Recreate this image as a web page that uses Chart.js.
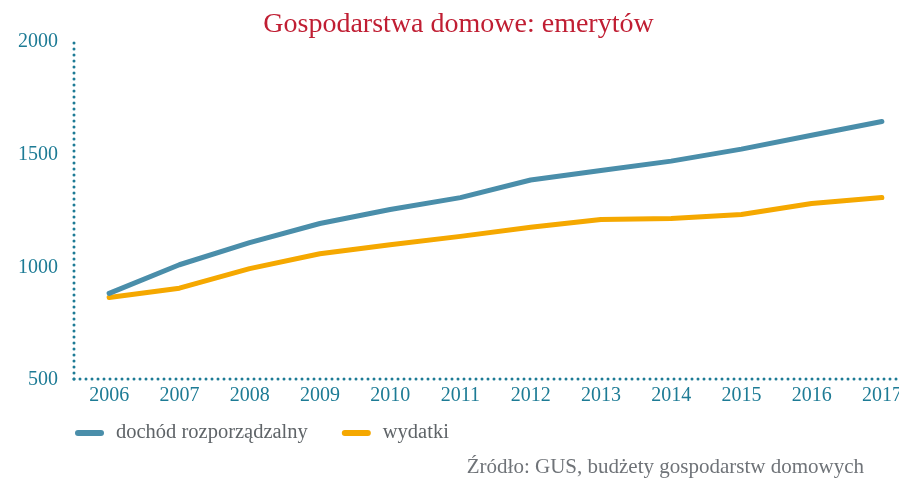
<!DOCTYPE html>
<html><head><meta charset="utf-8">
<script src="https://cdn.jsdelivr.net/npm/chart.js@4"></script>
<style>
html,body{margin:0;padding:0;overflow:hidden;background:#fff;width:899px;height:478px}
#wrap{position:relative;width:960px;height:478px}
</style></head>
<body><div id="wrap"><canvas id="c" width="960" height="478" style="width:960px;height:478px"></canvas></div>
<script>
const years = ['2006','2007','2008','2009','2010','2011','2012','2013','2014','2015','2016','2017'];
const dochod = [880, 1007, 1105, 1190, 1252, 1305, 1383, 1425, 1467, 1520, 1582, 1643];
const wydatki = [862, 903, 990, 1056, 1096, 1133, 1173, 1208, 1212, 1230, 1279, 1305];
const yTicks = [500, 1000, 1500, 2000];
const seriesNames = ['dochód rozporządzalny', 'wydatki'];
const titleText = 'Gospodarstwa domowe: emerytów';
const sourceText = 'Źródło: GUS, budżety gospodarstw domowych';

const FONT = '"Liberation Serif", "DejaVu Serif", serif';
const TEAL = '#1d7b95';

const dottedAxes = {
  id: 'dottedAxes',
  beforeDatasetsDraw(chart) {
    const ctx = chart.ctx, a = chart.chartArea;
    ctx.save();
    ctx.fillStyle = TEAL;
    const step = 6, r = 1.5;
    for (let y = a.bottom; y >= a.top - 2; y -= step) {
      ctx.beginPath(); ctx.arc(a.left, y, r, 0, Math.PI * 2); ctx.fill();
    }
    for (let x = a.left; x <= chart.width; x += step) {
      ctx.beginPath(); ctx.arc(x, a.bottom, r, 0, Math.PI * 2); ctx.fill();
    }
    ctx.restore();
  }
};

const extras = {
  id: 'extras',
  afterDraw(chart) {
    const ctx = chart.ctx, a = chart.chartArea;
    ctx.save();
    ctx.font = '20.5px ' + FONT;
    ctx.textBaseline = 'middle';
    ctx.textAlign = 'left';
    let x = a.left + 1;
    const y = a.bottom + 54;
    chart.data.datasets.forEach(ds => {
      ctx.strokeStyle = ds.borderColor;
      ctx.lineWidth = 6;
      ctx.lineCap = 'round';
      ctx.beginPath(); ctx.moveTo(x + 3, y); ctx.lineTo(x + 26, y); ctx.stroke();
      ctx.fillStyle = '#5f6468';
      ctx.fillText(ds.label, x + 41, y);
      x += 41 + ctx.measureText(ds.label).width + 34;
    });
    ctx.font = '21px ' + FONT;
    ctx.textAlign = 'right';
    ctx.fillStyle = '#6f7378';
    ctx.fillText(sourceText, 864, 467);
    ctx.restore();
  }
};

new Chart(document.getElementById('c'), {
  type: 'line',
  data: {
    labels: years,
    datasets: [
      { label: seriesNames[0], data: dochod, borderColor: '#4a8eaa', backgroundColor: '#4a8eaa',
        borderWidth: 5, pointRadius: 0, tension: 0, borderCapStyle: 'round', borderJoinStyle: 'round' },
      { label: seriesNames[1], data: wydatki, borderColor: '#f5a800', backgroundColor: '#f5a800',
        borderWidth: 5, pointRadius: 0, tension: 0, borderCapStyle: 'round', borderJoinStyle: 'round' }
    ]
  },
  options: {
    responsive: false,
    animation: false,
    devicePixelRatio: 1,
    layout: { padding: { left: 0, right: 43, top: 0, bottom: 65 } },
    plugins: {
      legend: { display: false },
      tooltip: { enabled: false },
      title: {
        display: true, text: titleText, color: '#c01e33',
        font: { family: FONT, size: 28, weight: 'normal', lineHeight: 1.0 },
        padding: { top: 11, bottom: 2 }
      }
    },
    scales: {
      x: {
        type: 'category', offset: true,
        grid: { display: false, drawTicks: false },
        border: { display: false },
        ticks: { color: TEAL, font: { family: FONT, size: 20 }, padding: 5, maxRotation: 0, autoSkip: false }
      },
      y: {
        min: 500, max: 2000,
        afterBuildTicks: s => { s.ticks = yTicks.map(v => ({ value: v })); },
        afterFit: s => { s.width = 74; },
        grid: { display: false, drawTicks: false },
        border: { display: false },
        ticks: { color: TEAL, font: { family: FONT, size: 20 }, padding: 16, labelOffset: 1, callback: v => String(v) }
      }
    }
  },
  plugins: [dottedAxes, extras]
});
</script>
</body></html>
